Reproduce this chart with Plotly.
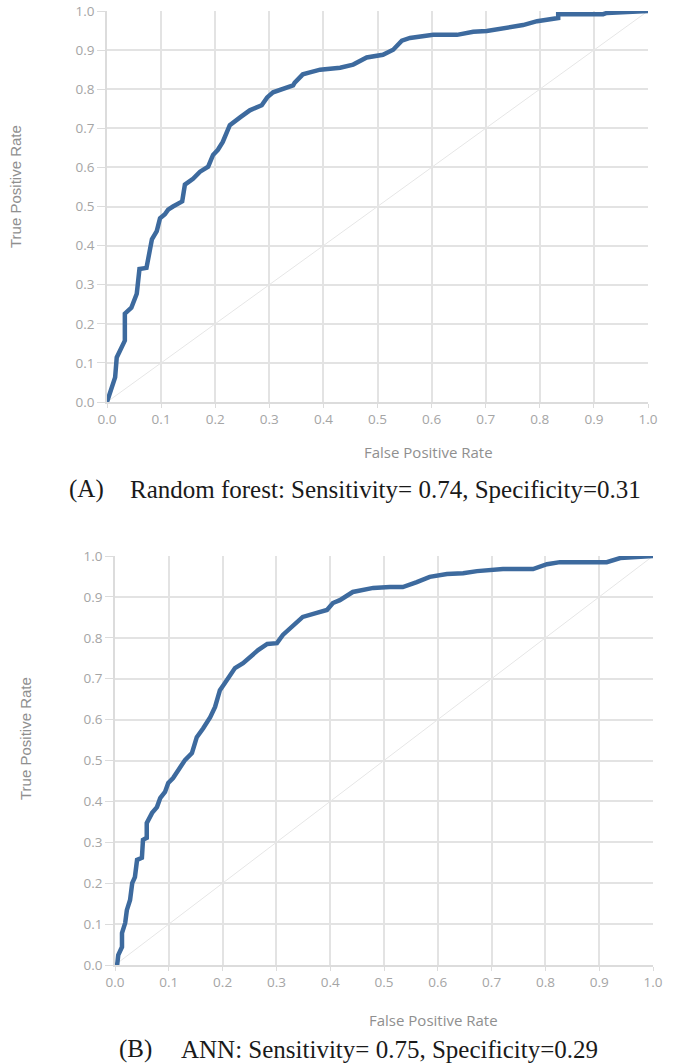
import plotly.graph_objects as go

# ---- data: Random forest ROC (A) ----
rf_fpr = [0.0, 0.006, 0.015, 0.018, 0.027, 0.033, 0.033, 0.045, 0.055, 0.060, 0.073, 0.079,
          0.083, 0.092, 0.098, 0.107, 0.113, 0.122, 0.139, 0.144, 0.159, 0.172, 0.187, 0.196,
          0.205, 0.214, 0.227, 0.246, 0.264, 0.286, 0.296, 0.307, 0.325, 0.344, 0.347, 0.362,
          0.375, 0.394, 0.431, 0.455, 0.480, 0.510, 0.529, 0.545, 0.560, 0.579, 0.603, 0.647,
          0.677, 0.702, 0.726, 0.750, 0.769, 0.795, 0.819, 0.834, 0.834, 0.874, 0.917, 0.924,
          0.967, 1.0]
rf_tpr = [0.0, 0.023, 0.063, 0.114, 0.137, 0.157, 0.226, 0.241, 0.277, 0.340, 0.343, 0.394,
          0.416, 0.437, 0.470, 0.480, 0.492, 0.500, 0.513, 0.556, 0.571, 0.589, 0.602, 0.632,
          0.645, 0.665, 0.708, 0.728, 0.746, 0.759, 0.779, 0.792, 0.800, 0.810, 0.817, 0.838,
          0.843, 0.850, 0.855, 0.863, 0.881, 0.888, 0.901, 0.924, 0.931, 0.934, 0.939, 0.939,
          0.947, 0.949, 0.954, 0.959, 0.964, 0.974, 0.980, 0.982, 0.992, 0.992, 0.992, 0.995,
          0.997, 1.0]

# ---- data: ANN ROC (B) ----
ann_fpr = [0.0, 0.004, 0.006, 0.013, 0.013, 0.019, 0.022, 0.028, 0.032, 0.037, 0.041, 0.050,
           0.052, 0.059, 0.059, 0.069, 0.078, 0.084, 0.093, 0.099, 0.108, 0.117, 0.130, 0.143,
           0.152, 0.164, 0.177, 0.186, 0.195, 0.204, 0.214, 0.223, 0.238, 0.251, 0.266, 0.283,
           0.301, 0.312, 0.331, 0.349, 0.375, 0.394, 0.405, 0.418, 0.442, 0.480, 0.511, 0.535,
           0.561, 0.585, 0.617, 0.647, 0.673, 0.721, 0.777, 0.803, 0.827, 0.914, 0.939, 0.970,
           1.0]
ann_tpr = [0.0, 0.0, 0.024, 0.044, 0.078, 0.103, 0.134, 0.159, 0.200, 0.215, 0.257, 0.262,
           0.306, 0.311, 0.347, 0.372, 0.386, 0.408, 0.423, 0.445, 0.457, 0.477, 0.501, 0.518,
           0.557, 0.579, 0.606, 0.631, 0.672, 0.689, 0.709, 0.726, 0.738, 0.753, 0.770, 0.785,
           0.787, 0.807, 0.831, 0.851, 0.861, 0.868, 0.885, 0.892, 0.912, 0.922, 0.924, 0.924,
           0.936, 0.949, 0.956, 0.958, 0.963, 0.968, 0.968, 0.980, 0.985, 0.985, 0.995, 0.998,
           1.0]

chance = [0.0, 1.0]
tick_vals = [i / 10 for i in range(11)]

W, H = 677, 1063
LINE = "#3d6a9e"
GRID = "#e3e3e3"
TICK = "#a5a5a5"
TITLE = "#8f8f8f"


def px(x):
    return x / W


def py(y):
    return 1 - y / H


fig = go.Figure()
fig.add_trace(go.Scatter(x=chance, y=chance, mode="lines", line=dict(color="#e6e6e6", width=1),
                         xaxis="x", yaxis="y", hoverinfo="skip"))
fig.add_trace(go.Scatter(x=rf_fpr, y=rf_tpr, mode="lines", line=dict(color=LINE, width=4.5),
                         xaxis="x", yaxis="y"))
fig.add_trace(go.Scatter(x=chance, y=chance, mode="lines", line=dict(color="#e6e6e6", width=1),
                         xaxis="x2", yaxis="y2", hoverinfo="skip"))
fig.add_trace(go.Scatter(x=ann_fpr, y=ann_tpr, mode="lines", line=dict(color=LINE, width=4.5),
                         xaxis="x2", yaxis="y2"))

axis_common = dict(range=[0, 1], tickvals=tick_vals, tickformat=".1f", automargin=False,
                   ticklabeloverflow="allow",
                   showgrid=True, gridcolor=GRID, gridwidth=1.5,
                   zeroline=False, showline=True, linecolor="#dcdcdc", linewidth=1.5,
                   ticks="outside", tickcolor="#dcdcdc",
                   tickfont=dict(family="Open Sans", size=13.5, color=TICK),
                   fixedrange=True)
xa = dict(ticklen=4, **axis_common)
ya = dict(ticklen=8, **axis_common)

fig.update_layout(
    width=W, height=H, margin=dict(l=0, r=0, t=0, b=0, pad=0, autoexpand=False),
    paper_bgcolor="white", plot_bgcolor="white", showlegend=False,
    xaxis=dict(domain=[px(107), px(648)], anchor="y", **xa),
    yaxis=dict(domain=[py(402), py(11)], anchor="x", **ya),
    xaxis2=dict(domain=[px(115), px(653)], anchor="y2", **xa),
    yaxis2=dict(domain=[py(965), py(556)], anchor="x2", **ya),
)

ann = []


def note(text, x, y, font, xanchor="center", angle=0):
    ann.append(dict(text=text, x=px(x), y=py(y), xref="paper", yref="paper",
                    xanchor=xanchor, yanchor="middle", textangle=angle,
                    showarrow=False, font=font))


ft = dict(family="Open Sans", size=15, color=TITLE)
fy = dict(family="Liberation Sans Narrow, Liberation Sans", size=15, color=TITLE)
note("False Positive Rate", 428, 452, ft)
note("False Positive Rate", 433, 1020, ft)
note("True Positive Rate", 16, 187, fy, angle=-90)
note("True Positive Rate", 25, 739, fy, angle=-90)
cap_font = dict(family="Liberation Serif", size=25, color="#1a1a1a")
note("(A)", 67, 489, cap_font, xanchor="left")
note("Random forest: Sensitivity= 0.74, Specificity=0.31", 128, 489, cap_font, xanchor="left")
note("(B)", 117, 1049, cap_font, xanchor="left")
note("ANN: Sensitivity= 0.75, Specificity=0.29", 179, 1049, cap_font, xanchor="left")
fig.update_layout(annotations=ann)

fig.write_html("out.html", config={"displayModeBar": False},
               post_script="document.body.style.margin='0px';")
